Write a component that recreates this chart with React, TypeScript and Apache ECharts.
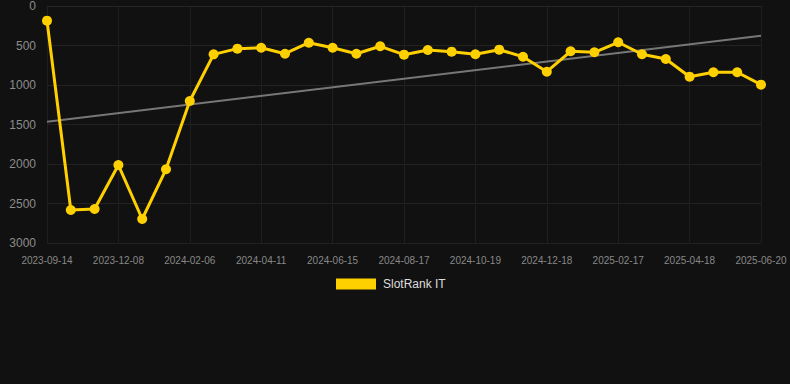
import React, { useEffect, useRef } from "react";
import * as echarts from "echarts";

const categories: string[] = [
  "2023-09-14", "2023-10-12", "2023-11-09", "2023-12-08", "2023-12-28", "2024-01-17",
  "2024-02-06", "2024-02-28", "2024-03-20", "2024-04-11", "2024-05-03", "2024-05-24",
  "2024-06-15", "2024-07-06", "2024-07-27", "2024-08-17", "2024-09-07", "2024-09-28",
  "2024-10-19", "2024-11-08", "2024-11-28", "2024-12-18", "2025-01-07", "2025-01-27",
  "2025-02-17", "2025-03-09", "2025-03-29", "2025-04-18", "2025-05-09", "2025-05-30",
  "2025-06-20",
];

const rankValues: number[] = [
  186, 2582, 2570, 2013, 2696, 2067, 1203, 612, 540, 528, 604, 465, 528, 604, 510, 616,
  557, 578, 611, 553, 642, 832, 573, 586, 459, 611, 671, 895, 839, 839, 996,
];

const trendStart = 1464;
const trendEnd = 376;

const seriesName = "SlotRank IT";

export default function App() {
  const ref = useRef<HTMLDivElement>(null);
  useEffect(() => {
    if (!ref.current) return;
    const chart = echarts.init(ref.current, undefined, { renderer: "svg" });
    const font = "'Liberation Sans', Arial, Helvetica, sans-serif";
    chart.setOption({
      animation: false,
      backgroundColor: "#111111",
      textStyle: { fontFamily: font },
      grid: { left: 47, right: 29, top: 6, bottom: 141, containLabel: false },
      legend: {
        data: [seriesName],
        left: 336,
        top: 278,
        padding: 0,
        icon: "rect",
        itemWidth: 40,
        itemHeight: 11,
        itemGap: 10,
        textStyle: { color: "#dddddd", fontSize: 12, fontFamily: font, padding: [0, 0, 0, 2] },
      },
      xAxis: {
        type: "category",
        data: categories,
        boundaryGap: false,
        axisLine: { show: true, lineStyle: { color: "#262626" } },
        axisTick: { show: false },
        axisLabel: { interval: 2, color: "#888888", fontSize: 10, margin: 12, fontFamily: font },
        splitLine: { show: true, interval: 2, lineStyle: { color: "#1f1f1f", width: 1 } },
      },
      yAxis: {
        type: "value",
        inverse: true,
        min: 0,
        max: 3000,
        interval: 500,
        axisLine: { show: false },
        axisTick: { show: false },
        axisLabel: {
          color: "#8c8c8c",
          fontSize: 12,
          margin: 11,
          fontFamily: font,
          formatter: (v: number) => String(v),
        },
        splitLine: { show: true, lineStyle: { color: "#222222", width: 1 } },
      },
      series: [
        {
          name: seriesName,
          type: "line",
          data: rankValues,
          color: "#FFD000",
          lineStyle: { color: "#FFD000", width: 3 },
          itemStyle: { color: "#FFD000" },
          symbol: "circle",
          symbolSize: 10,
          z: 3,
        },
        {
          name: "trend",
          type: "line",
          data: [
            [categories[0], trendStart],
            [categories[categories.length - 1], trendEnd],
          ],
          symbol: "none",
          lineStyle: { color: "#777777", width: 2 },
          itemStyle: { color: "#777777" },
          z: 2,
        },
      ],
    });
    return () => chart.dispose();
  }, []);
  return (
    <div
      ref={ref}
      style={{ position: "fixed", left: 0, top: 0, width: 790, height: 384 }}
    />
  );
}
